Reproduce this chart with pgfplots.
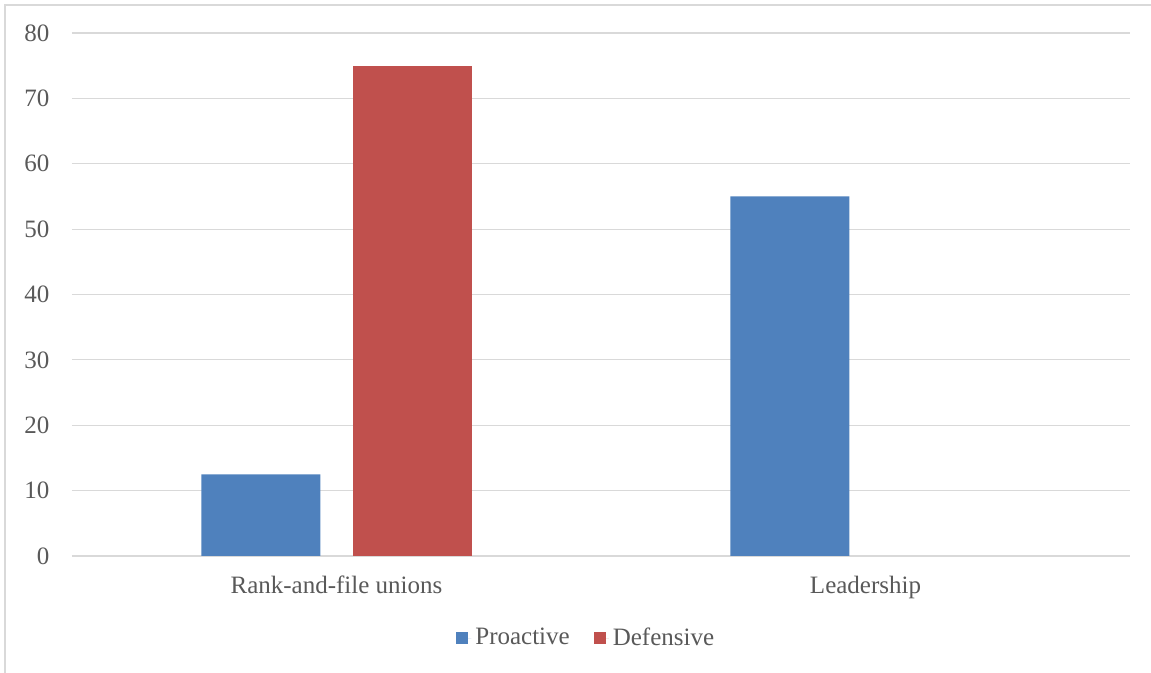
\documentclass[border=0pt]{standalone}
\usepackage{pgfplots}
\pgfplotsset{compat=1.18}
\usepackage{fontspec}
\setmainfont{Liberation Serif}
\definecolor{pblue}{RGB}{79,129,189}
\definecolor{dred}{RGB}{192,80,77}
\definecolor{gridgray}{RGB}{217,217,217}
\definecolor{txtgray}{RGB}{89,89,89}
\begin{document}
\begin{tikzpicture}
\path[use as bounding box] (0,0) rectangle (575.5pt,336.5pt);
\draw[gridgray, line width=0.8pt] (2.5pt,-10pt) -- (2.5pt,334pt) -- (600pt,334pt);
\begin{axis}[
  at={(36pt,58.5pt)}, anchor=south west,
  scale only axis, width=529pt, height=261.5pt,
  xmin=-0.5, xmax=1.5, ymin=0, ymax=80,
  ytick={0,10,...,80},
  xtick={0,1}, xticklabels={Rank-and-file unions, Leadership},
  axis line style={draw=none},
  axis x line*=bottom, axis y line*=left,
  major tick length=0pt,
  ymajorgrids, grid style={gridgray, line width=0.6pt},
  tick label style={font=\fontsize{12.5}{15}\selectfont, text=txtgray},
  /pgf/number format/assume math mode=true,
  yticklabel style={xshift=-7.8pt},
  xticklabel style={yshift=-6.3pt},
  ybar, bar width=0.225,
  extra y ticks={0}, extra y tick labels={},
  extra y tick style={grid style={gridgray, line width=0.8pt}},
  legend style={at={(0.487,-0.157)}, anchor=center, legend columns=2, draw=none,
    font=\fontsize{12.5}{15}\selectfont, text=txtgray,
    /tikz/every even column/.append style={column sep=10pt}},
  legend image code/.code={\fill[#1] (0pt,-3pt) rectangle (6pt,3pt); \path (0pt,0pt) -- (7.5pt,0pt);},
]
\addplot[fill=pblue, draw=none, bar shift=-0.143] coordinates {(0,12.5) (1,55)};
\addplot[fill=dred, draw=none, bar shift=0.143] coordinates {(0,75)};
\legend{Proactive, Defensive}
\end{axis}
\end{tikzpicture}
\end{document}
